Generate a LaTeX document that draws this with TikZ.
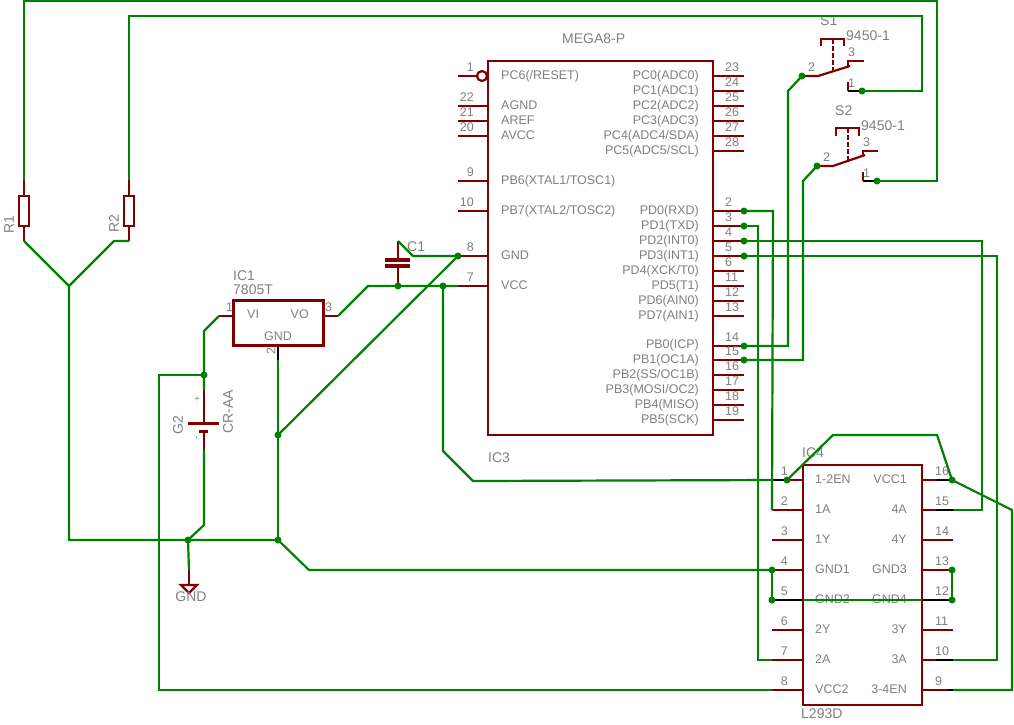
\documentclass[tikz,border=0pt]{standalone}
\usepackage{xcolor}
\usepackage{fontspec}
\setmainfont{Liberation Sans}
\definecolor{pinred}{HTML}{800000}
\definecolor{wiregreen}{HTML}{008000}
\definecolor{labelgray}{HTML}{808080}
\begin{document}
\begin{tikzpicture}[x=1pt, y=-1pt,
    pin/.style={pinred, line width=2.2pt},
    body/.style={pinred, line width=2.2pt},
    thickbody/.style={pinred, line width=3pt},
    stub/.style={black, line width=2.2pt},
    wire/.style={wiregreen, line width=2.2pt},
    dot/.style={circle, fill=wiregreen, inner sep=0pt, minimum size=7pt},
    txt/.style={text=labelgray, inner sep=0pt, font=\fontsize{12.5}{14}\selectfont},
    lbl/.style={txt, anchor=base west, yshift=0.7pt},
    rlbl/.style={txt, anchor=base east, yshift=0.7pt},
    big/.style={font=\fontsize{14}{16}\selectfont}]
  \useasboundingbox (0,0) rectangle (1014,724);
  \fill[white] (0,0) rectangle (1014,724);

  % R1, R2
  \coordinate (r1top) at (24,180);
  \coordinate (r1bot) at (24,241);
  \coordinate (r2top) at (129,180);
  \coordinate (r2bot) at (129,241);
  \draw[pin] (r1top) -- (r1bot);
  \draw[pin] (r2top) -- (r2bot);
  \draw[body, fill=white] (19,196) rectangle (29,226);
  \draw[body, fill=white] (124,196) rectangle (134,226);
  \node[txt, big, rotate=90] (r1name) at (9,225) {R1};
  \node[txt, big, rotate=90] (r2name) at (114,224) {R2};

  % IC1
  \coordinate (vi) at (219,316);
  \coordinate (vo) at (338,316);
  \coordinate (reg2) at (278,360);
  \draw[pin] (vi) -- (233,316);
  \draw[pin] (323,316) -- (vo);
  \draw[stub] (278,345) -- (reg2);
  \draw[thickbody] (233,300) rectangle (323,345);
  \node[lbl, big] (ic1name) at (233,281) {IC1};
  \node[lbl, big] (ic1val) at (233,295) {7805T};
  \node[lbl] (ic1n1) at (226,312) {1};
  \node[lbl] (ic1n3) at (325,312) {3};
  \node[txt, rotate=90] (ic1n2) at (271,351) {2};
  \node[lbl] (ic1vi) at (247,319) {VI};
  \node[rlbl] (ic1vo) at (309,319) {VO};
  \node[txt] (ic1gnd) at (278,336) {GND};

  % G2
  \coordinate (bplus) at (204,390);
  \coordinate (bminus) at (204,450);
  \draw[pin] (bplus) -- (204,423);
  \draw[pin] (204,431) -- (bminus);
  \draw[pin, line width=3pt] (188,423) -- (219,423);
  \draw[pin, line width=3pt] (199,431.5) -- (208,431.5);
  \node[txt, big, rotate=90] (g2name) at (178,425) {G2};
  \node[txt, big, rotate=90] (g2val) at (228,412) {CR-AA};
  \node[txt, rotate=90, font=\fontsize{9}{10}\selectfont] (g2p) at (197.5,399) {+};
  \node[txt, rotate=90, font=\fontsize{9}{10}\selectfont] (g2m) at (197.5,438) {-};

  % GND
  \coordinate (gndtop) at (189,570);
  \draw[pin] (gndtop) -- (189,585);
  \draw[pin] (181,585) -- (197,585) -- (189,593) -- cycle;
  \node[txt, big] (gndname) at (191,597) {GND};

  % C1
  \coordinate (c1top) at (398,241);
  \coordinate (c1bot) at (398,286);
  \draw[pin] (c1top) -- (398,260);
  \draw[pin] (398,266) -- (c1bot);
  \draw[pin, line width=4pt] (385,260) -- (410,260);
  \draw[pin, line width=4pt] (385,266) -- (410,266);
  \node[lbl, big] (c1name) at (407,252) {C1};

  % IC3
  \draw[body] (488,61) rectangle (713,435);
  \node[lbl, big] (ic3val) at (562,44) {MEGA8-P};
  \node[lbl, big] (ic3name) at (488,463) {IC3};
  \draw[pin] (458,76) -- (477,76);
  \draw[pin, fill=white] (482,76) circle (5);
  \draw[pin] (458,106) coordinate (m22) -- (488,106);
  \draw[pin] (458,121) coordinate (m21) -- (488,121);
  \draw[pin] (458,136) coordinate (m20) -- (488,136);
  \draw[pin] (458,181) coordinate (m9) -- (488,181);
  \draw[pin] (458,211) coordinate (m10) -- (488,211);
  \draw[pin] (458,256) coordinate (m8) -- (488,256);
  \draw[pin] (458,286) coordinate (m7) -- (488,286);
  \node[rlbl] (n1) at (474,72) {1};
  \node[rlbl] (n22) at (474,102) {22};
  \node[rlbl] (n21) at (474,117) {21};
  \node[rlbl] (n20) at (474,132) {20};
  \node[rlbl] (n9) at (474,177) {9};
  \node[rlbl] (n10) at (474,207) {10};
  \node[rlbl] (n8) at (474,252) {8};
  \node[rlbl] (n7) at (474,282) {7};
  \node[lbl] (t1) at (501,80) {PC6(/RESET)};
  \node[lbl] (t22) at (501,110) {AGND};
  \node[lbl] (t21) at (501,125) {AREF};
  \node[lbl] (t20) at (501,140) {AVCC};
  \node[lbl] (t9) at (501,185) {PB6(XTAL1/TOSC1)};
  \node[lbl] (t10) at (501,215) {PB7(XTAL2/TOSC2)};
  \node[lbl] (t8) at (501,260) {GND};
  \node[lbl] (t7) at (501,290) {VCC};
  \draw[pin] (713,76) -- (744,76);
  \draw[pin] (713,91) -- (744,91);
  \draw[pin] (713,106) -- (744,106);
  \draw[pin] (713,121) -- (744,121);
  \draw[pin] (713,136) -- (744,136);
  \draw[pin] (713,151) -- (744,151);
  \draw[pin] (713,211) -- (744,211) coordinate (m2);
  \draw[pin] (713,226) -- (744,226) coordinate (m3);
  \draw[pin] (713,241) -- (744,241) coordinate (m4);
  \draw[pin] (713,256) -- (744,256) coordinate (m5);
  \draw[pin] (713,271) -- (744,271);
  \draw[pin] (713,286) -- (744,286);
  \draw[pin] (713,301) -- (744,301);
  \draw[pin] (713,316) -- (744,316);
  \draw[pin] (713,346) -- (744,346) coordinate (m14);
  \draw[pin] (713,360) -- (744,360) coordinate (m15);
  \draw[pin] (713,375) -- (744,375);
  \draw[pin] (713,390) -- (744,390);
  \draw[pin] (713,405) -- (744,405);
  \draw[pin] (713,420) -- (744,420);
  \node[lbl] (n23) at (725,72) {23};
  \node[lbl] (n24) at (725,87) {24};
  \node[lbl] (n25) at (725,102) {25};
  \node[lbl] (n26) at (725,117) {26};
  \node[lbl] (n27) at (725,132) {27};
  \node[lbl] (n28) at (725,147) {28};
  \node[lbl] (n2) at (725,207) {2};
  \node[lbl] (n3) at (725,222) {3};
  \node[lbl] (n4) at (725,237) {4};
  \node[lbl] (n5) at (725,252) {5};
  \node[lbl] (n6) at (725,267) {6};
  \node[lbl] (n11) at (725,282) {11};
  \node[lbl] (n12) at (725,297) {12};
  \node[lbl] (n13) at (725,312) {13};
  \node[lbl] (n14) at (725,342) {14};
  \node[lbl] (n15) at (725,356) {15};
  \node[lbl] (n16) at (725,371) {16};
  \node[lbl] (n17) at (725,386) {17};
  \node[lbl] (n18) at (725,401) {18};
  \node[lbl] (n19) at (725,416) {19};
  \node[rlbl] (t23) at (699,80) {PC0(ADC0)};
  \node[rlbl] (t24) at (699,95) {PC1(ADC1)};
  \node[rlbl] (t25) at (699,110) {PC2(ADC2)};
  \node[rlbl] (t26) at (699,125) {PC3(ADC3)};
  \node[rlbl] (t27) at (699,140) {PC4(ADC4/SDA)};
  \node[rlbl] (t28) at (699,155) {PC5(ADC5/SCL)};
  \node[rlbl] (t2) at (699,215) {PD0(RXD)};
  \node[rlbl] (t3) at (699,230) {PD1(TXD)};
  \node[rlbl] (t4) at (699,245) {PD2(INT0)};
  \node[rlbl] (t5) at (699,260) {PD3(INT1)};
  \node[rlbl] (t6) at (699,275) {PD4(XCK/T0)};
  \node[rlbl] (t11) at (699,290) {PD5(T1)};
  \node[rlbl] (t12) at (699,305) {PD6(AIN0)};
  \node[rlbl] (t13) at (699,320) {PD7(AIN1)};
  \node[rlbl] (t14) at (699,349) {PB0(ICP)};
  \node[rlbl] (t15) at (699,364) {PB1(OC1A)};
  \node[rlbl] (t16) at (699,379) {PB2(SS/OC1B)};
  \node[rlbl] (t17) at (699,394) {PB3(MOSI/OC2)};
  \node[rlbl] (t18) at (699,409) {PB4(MISO)};
  \node[rlbl] (t19) at (699,424) {PB5(SCK)};

  % S1
  \coordinate (s1c) at (802,76);
  \coordinate (s1o) at (862,91);
  \draw[pin] (s1c) -- (818,76) -- (850,66);
  \draw[pin] (848,66) -- (848,61) -- (864,61);
  \draw[pin] (848,82) -- (848,91);
  \draw[stub] (848,91) -- (s1o);
  \draw[pin, dash pattern=on 5pt off 2pt] (833,39) -- (833,71);
  \draw[pin] (821,46) -- (821,39) -- (844,39) -- (844,46);
  \node[lbl, big] (s1name) at (820,26) {S1};
  \node[lbl, big] (s1val) at (846,41) {9450-1};
  \node[lbl] (s1n3) at (848,57) {3};
  \node[lbl] (s1n2) at (808,72) {2};
  \node[lbl] (s1n1) at (848,88) {1};

  % S2
  \coordinate (s2c) at (817,166);
  \coordinate (s2o) at (877,181);
  \draw[pin] (s2c) -- (833,166) -- (865,155);
  \draw[pin] (863,156) -- (863,151) -- (878,151);
  \draw[pin] (863,172) -- (863,181);
  \draw[stub] (863,181) -- (s2o);
  \draw[pin, dash pattern=on 5pt off 2pt] (848,128) -- (848,160);
  \draw[pin] (836,136) -- (836,128) -- (859,128) -- (859,136);
  \node[lbl, big] (s2name) at (835,116) {S2};
  \node[lbl, big] (s2val) at (861,131) {9450-1};
  \node[lbl] (s2n3) at (863,147) {3};
  \node[lbl] (s2n2) at (823,162) {2};
  \node[lbl] (s2n1) at (863,178) {1};

  % IC4
  \draw[pin] (787,480) -- (803,480);
  \draw[stub] (772,480) coordinate (i1) -- (787,480) coordinate (i1d);
  \draw[pin] (772,510) coordinate (i2) -- (803,510);
  \draw[pin] (772,540) -- (803,540);
  \draw[pin] (772,570) coordinate (i4) -- (803,570);
  \draw[stub] (772,600) coordinate (i5) -- (803,600) coordinate (i5r);
  \draw[pin] (772,630) -- (803,630);
  \draw[pin] (772,660) coordinate (i7) -- (803,660);
  \draw[pin] (772,690) coordinate (i8) -- (803,690);
  \draw[pin] (922,480) -- (937,480);
  \draw[stub] (937,480) -- (952,480) coordinate (i16);
  \draw[pin] (922,510) -- (936,510);
  \draw[stub] (936,510) -- (953,510) coordinate (i15);
  \draw[pin] (922,540) -- (953,540);
  \draw[pin] (922,570) -- (952,570) coordinate (i13);
  \draw[stub] (922,600) coordinate (i12l) -- (952,600) coordinate (i12);
  \draw[pin] (922,630) -- (953,630);
  \draw[pin] (922,660) -- (936,660);
  \draw[stub] (936,660) -- (953,660) coordinate (i10);
  \draw[pin] (922,690) -- (948,690);
  \draw[stub] (948,690) -- (953,690) coordinate (i9);
  \draw[body] (803,465) rectangle (922,705);
  \node[lbl, big] (ic4name) at (802,458) {IC4};
  \node[lbl, big] (ic4val) at (801,719) {L293D};
  \node[rlbl] (in1) at (788,476) {1};
  \node[rlbl] (in2) at (788,506) {2};
  \node[rlbl] (in3) at (788,536) {3};
  \node[rlbl] (in4) at (788,566) {4};
  \node[rlbl] (in5) at (788,596) {5};
  \node[rlbl] (in6) at (788,626) {6};
  \node[rlbl] (in7) at (788,656) {7};
  \node[rlbl] (in8) at (788,686) {8};
  \node[lbl] (in16) at (935,476) {16};
  \node[lbl] (in15) at (935,506) {15};
  \node[lbl] (in14) at (935,536) {14};
  \node[lbl] (in13) at (935,566) {13};
  \node[lbl] (in12) at (935,596) {12};
  \node[lbl] (in11) at (935,626) {11};
  \node[lbl] (in10) at (935,656) {10};
  \node[lbl] (in9) at (935,686) {9};
  \node[lbl] (it1) at (815,484) {1-2EN};
  \node[lbl] (it2) at (815,514) {1A};
  \node[lbl] (it3) at (815,544) {1Y};
  \node[lbl] (it4) at (815,574) {GND1};
  \node[lbl] (it5) at (815,604) {GND2};
  \node[lbl] (it6) at (815,634) {2Y};
  \node[lbl] (it7) at (815,664) {2A};
  \node[lbl] (it8) at (815,694) {VCC2};
  \node[rlbl] (it16) at (907,484) {VCC1};
  \node[rlbl] (it15) at (907,514) {4A};
  \node[rlbl] (it14) at (907,544) {4Y};
  \node[rlbl] (it13) at (907,574) {GND3};
  \node[rlbl] (it12) at (907,604) {GND4};
  \node[rlbl] (it11) at (907,634) {3Y};
  \node[rlbl] (it10) at (907,664) {3A};
  \node[rlbl] (it9) at (907,694) {3-4EN};

  % junctions
  \coordinate (jbat) at (204,375);
  \coordinate (jgnd) at (188,540);
  \coordinate (jpow) at (278,540);
  \coordinate (jreg) at (278,435);
  \coordinate (jcap) at (398,286);
  \coordinate (jvcc) at (443,286);

  % wires
  \draw[wire] (r1top) -- (24,1) -- (937,1) -- (937,181) -- (s2o);
  \draw[wire] (r2top) -- (129,16) -- (922,16) -- (922,91) -- (s1o);
  \draw[wire] (r1bot) -- (69,286);
  \draw[wire] (r2bot) -- (114,241) -- (69,286) -- (69,540) -- (jgnd) -- (jpow) -- (309,570) -- (i4);
  \draw[wire] (vi) -- (204,331) -- (jbat) -- (bplus);
  \draw[wire] (jbat) -- (159,375) -- (159,690) -- (i8);
  \draw[wire] (bminus) -- (204,525) -- (jgnd) -- (gndtop);
  \draw[wire] (reg2) -- (jreg) -- (jpow);
  \draw[wire] (jreg) -- (m8);
  \draw[wire] (c1top) -- (413,256) -- (m8);
  \draw[wire] (vo) -- (368,286) -- (jcap) -- (jvcc) -- (m7);
  \draw[wire] (jvcc) -- (443,451) -- (473,481) -- (i1);
  \draw[wire] (i1d) -- (833,435) -- (937,435) -- (i16) -- (1012,510) -- (1012,690) -- (i9);
  \draw[wire] (m2) -- (773,211) -- (i2);
  \draw[wire] (m3) -- (758,226) -- (758,660) -- (i7);
  \draw[wire] (m4) -- (982,241) -- (982,510) -- (i15);
  \draw[wire] (m5) -- (997,256) -- (997,660) -- (i10);
  \draw[wire] (m14) -- (788,346) -- (788,91) -- (s1c);
  \draw[wire] (m15) -- (803,360) -- (803,181) -- (s2c);
  \draw[wire] (i4) -- (i5);
  \draw[wire] (i13) -- (i12);
  \draw[wire] (i5r) -- (i12l);

  % dots
  \node[dot] (dbat) at (jbat) {};
  \node[dot] (dgnd) at (jgnd) {};
  \node[dot] (dpow) at (jpow) {};
  \node[dot] (dreg) at (jreg) {};
  \node[dot] (dcap) at (jcap) {};
  \node[dot] (dvcc) at (jvcc) {};
  \node[dot] (dm8) at (m8) {};
  \node[dot] (dm2) at (m2) {};
  \node[dot] (dm3) at (m3) {};
  \node[dot] (dm4) at (m4) {};
  \node[dot] (dm5) at (m5) {};
  \node[dot] (dm14) at (m14) {};
  \node[dot] (dm15) at (m15) {};
  \node[dot] (ds1c) at (s1c) {};
  \node[dot] (ds1o) at (s1o) {};
  \node[dot] (ds2c) at (s2c) {};
  \node[dot] (ds2o) at (s2o) {};
  \node[dot] (di1) at (i1d) {};
  \node[dot] (di4) at (i4) {};
  \node[dot] (di5) at (i5) {};
  \node[dot] (di13) at (i13) {};
  \node[dot] (di12) at (i12) {};
  \node[dot] (di16) at (i16) {};
\end{tikzpicture}
\end{document}
